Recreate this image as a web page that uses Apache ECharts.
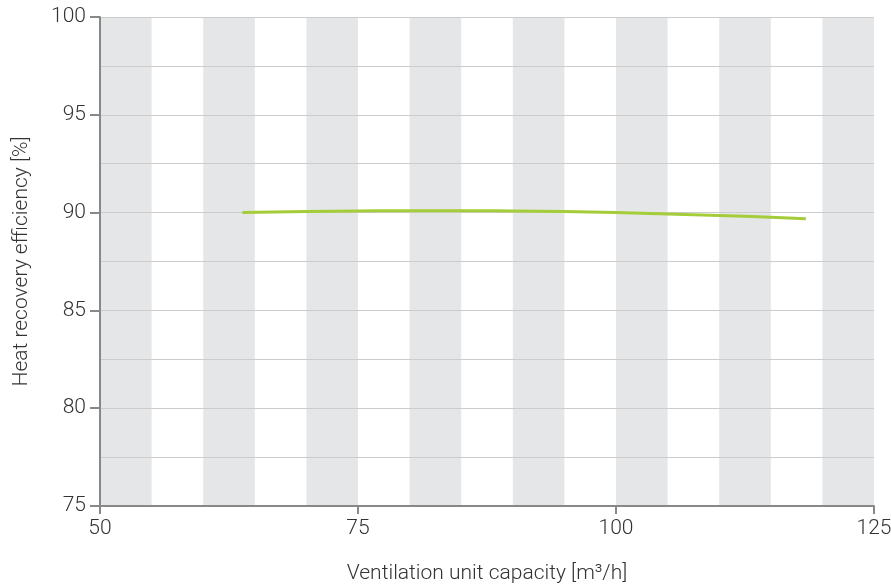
<!DOCTYPE html>
<html><head><meta charset="utf-8">
<script src="https://cdn.jsdelivr.net/npm/echarts@6/dist/echarts.min.js"></script>
<style>html,body{margin:0;padding:0;background:#fff}#c{width:891px;height:587px}</style>
</head><body><div id="c"></div>
<script>
const capacity = [63.8, 70, 75, 80, 85, 90, 95, 100, 105, 110, 115, 118.4];
const efficiency = [90.0, 90.05, 90.08, 90.1, 90.1, 90.08, 90.05, 90.0, 89.93, 89.85, 89.76, 89.68];
const bandStarts = [50, 60, 70, 80, 90, 100, 110, 120];
const bandWidth = 5;
const xTitle = 'Ventilation unit capacity [m³/h]';
const yTitle = 'Heat recovery efficiency [%]';

const font = 'Roboto';
const fs = 21;
const chart = echarts.init(document.getElementById('c'));
chart.setOption({
  animation: false,
  grid: {left: 100, right: 17, top: 17, bottom: 81, outerBoundsMode: 'none', containLabel: false},
  xAxis: {
    type: 'value', min: 50, max: 125, interval: 25, z: 10,
    name: xTitle, nameLocation: 'middle', nameGap: 57,
    nameTextStyle: {fontFamily: font, fontSize: fs, fontWeight: 300, color: '#333'},
    axisLine: {show: true, lineStyle: {color: '#888', width: 2}},
    axisTick: {show: true, length: 8, lineStyle: {color: '#888', width: 2}},
    axisLabel: {fontFamily: font, fontSize: fs, fontWeight: 300, color: '#333', margin: 12},
    splitLine: {show: false}
  },
  yAxis: {
    type: 'value', min: 75, max: 100, interval: 5, z: 10,
    name: yTitle, nameLocation: 'middle', nameGap: 68,
    nameTextStyle: {fontFamily: font, fontSize: fs, fontWeight: 300, color: '#333'},
    axisLine: {show: true, lineStyle: {color: '#888', width: 2}},
    axisTick: {show: true, length: 10, lineStyle: {color: '#888', width: 2}},
    axisLabel: {fontFamily: font, fontSize: fs, fontWeight: 300, color: '#333', margin: 14},
    splitLine: {show: true, lineStyle: {color: '#cccccc', width: 1}},
    minorTick: {show: false, splitNumber: 2},
    minorSplitLine: {show: true, lineStyle: {color: '#cccccc', width: 1}}
  },
  series: [{
    type: 'line', smooth: true, symbol: 'none',
    data: capacity.map((x, i) => [x, efficiency[i]]),
    lineStyle: {color: '#a5cd39', width: 3},
    z: 20,
    markArea: {
      silent: true,
      itemStyle: {color: '#e5e6e8'},
      data: bandStarts.map(s => [{xAxis: s}, {xAxis: s + bandWidth}])
    }
  }]
});
</script></body></html>
